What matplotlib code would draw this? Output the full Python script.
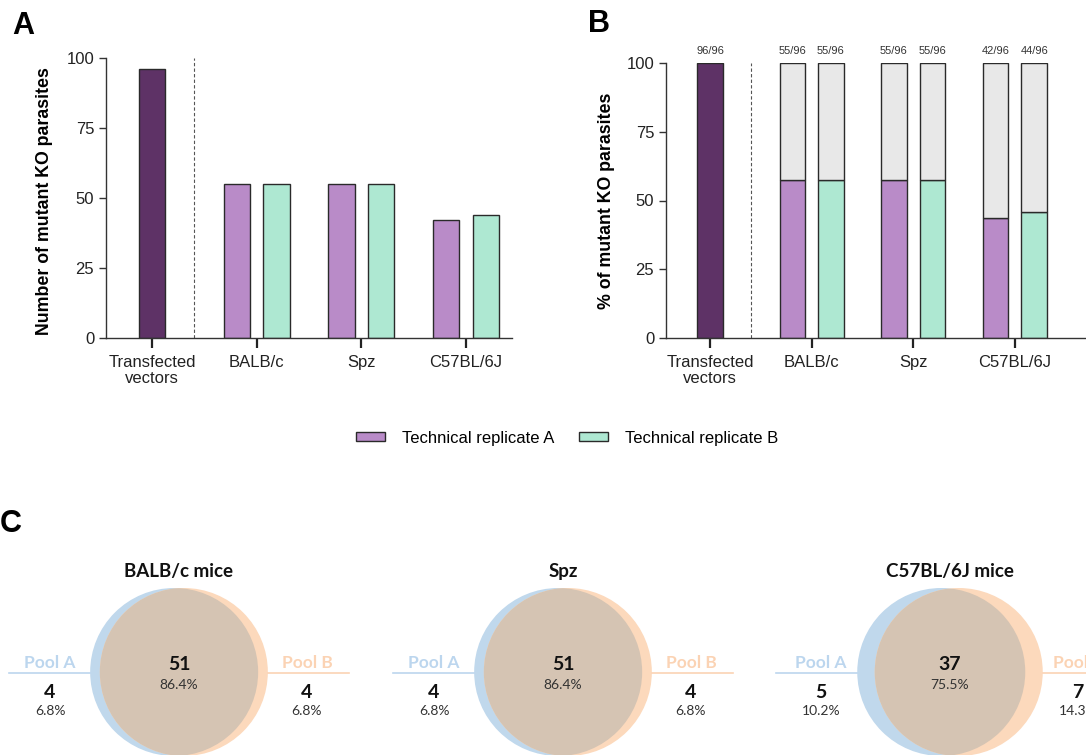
import numpy as np
import matplotlib
matplotlib.use("Agg")
import matplotlib.pyplot as plt
from matplotlib.patches import Circle, Patch

plt.rcParams['font.family'] = ['Liberation Sans', 'DejaVu Sans']

# data
groups = ['Transfected\nvectors', 'BALB/c', 'Spz', 'C57BL/6J']
transfected = 96
total = 96
rep_a = [55, 55, 42]
rep_b = [55, 55, 44]

venn_titles = ['BALB/c mice', 'Spz', 'C57BL/6J mice']
only_a = [4, 4, 5]
shared = [51, 51, 37]
only_b = [4, 4, 7]

dark = '#5e3266'
col_a = '#b98bc8'
col_b = '#aee8d2'
grey = '#e8e8e8'
edge = '#2a2a2a'

W, H = 1086, 755
fig = plt.figure(figsize=(W / 100, H / 100), dpi=100)


def px_axes(left, top, right, bottom):
    return fig.add_axes([left / W, 1 - bottom / H, (right - left) / W, (bottom - top) / H])


def style(ax):
    for s in ['top', 'right']:
        ax.spines[s].set_visible(False)
    for s in ['left', 'bottom']:
        ax.spines[s].set_color('#333333')
        ax.spines[s].set_linewidth(1.0)
    ax.set_ylim(0, 100)
    ax.set_yticks([0, 25, 50, 75, 100])
    ax.tick_params(axis='y', length=5, width=1, labelsize=12, colors='#333333', labelcolor='#222222')
    ax.tick_params(axis='x', length=7, width=1.6, labelsize=12, colors='#222222', pad=5)
    ax.set_xticks(range(len(groups)))
    ax.set_xticklabels(groups, linespacing=1.15)
    ax.axvline(0.40, 0, 1, color='#555555', lw=0.8, ls=(0, (3, 2)))


x = np.arange(1, 4)
bw, off = 0.25, 0.19

# panel A
axA = px_axes(106, 58, 512, 338)
axA.bar(0, transfected, bw, color=dark, edgecolor=edge, lw=1)
axA.bar(x - off, rep_a, bw, color=col_a, edgecolor=edge, lw=1)
axA.bar(x + off, rep_b, bw, color=col_b, edgecolor=edge, lw=1)
axA.set_xlim(-0.44, 3.44)
style(axA)
axA.set_ylabel('Number of mutant KO parasites', fontsize=12.8, fontweight='bold')
axA.yaxis.set_label_coords(-0.13, 0.49)

# panel B
axB = px_axes(666, 63, 1086, 338)
pa = np.array(rep_a) / total * 100
pb = np.array(rep_b) / total * 100
axB.bar(0, transfected / total * 100, bw, color=dark, edgecolor=edge, lw=1)
axB.bar(x - off, pa, bw, color=col_a, edgecolor=edge, lw=1)
axB.bar(x + off, pb, bw, color=col_b, edgecolor=edge, lw=1)
axB.bar(x - off, 100 - pa, bw, bottom=pa, color=grey, edgecolor=edge, lw=1)
axB.bar(x + off, 100 - pb, bw, bottom=pb, color=grey, edgecolor=edge, lw=1)
axB.set_xlim(-0.433, 3.70)
style(axB)
axB.set_ylabel('% of mutant KO parasites', fontsize=12.8, fontweight='bold')
axB.yaxis.set_label_coords(-0.122, 0.5)
labels = [(0, transfected)] + [(xi - off, a) for xi, a in zip(x, rep_a)] + [(xi + off, b) for xi, b in zip(x, rep_b)]
for xp, v in labels:
    axB.annotate(f'{v}/{total}', (xp, 100), xytext=(0, 5), textcoords='offset points',
                 ha='center', va='bottom', fontsize=8, color='#333333', annotation_clip=False)

# legend
handles = [Patch(facecolor=col_a, edgecolor=edge, label='Technical replicate A'),
           Patch(facecolor=col_b, edgecolor=edge, label='Technical replicate B')]
fig.legend(handles=handles, loc='center', bbox_to_anchor=(567 / W, 1 - 438 / H), ncol=2,
           frameon=False, fontsize=12, handlelength=1.75, handleheight=0.5,
           handletextpad=1.0, columnspacing=1.5)

# panel letters
fig.text(12 / W, 1 - 26 / H, 'A', fontsize=22, fontweight='bold', va='center')
fig.text(588 / W, 1 - 24 / H, 'B', fontsize=22, fontweight='bold', va='center')
fig.text(0 / W, 1 - 524 / H, 'C', fontsize=22, fontweight='bold', va='center')

# panel C: venn diagrams
axC = px_axes(0, 480, W, H)
axC.set_xlim(0, W)
axC.set_ylim(H, 480)
axC.axis('off')

vfont = ['Lato', 'DejaVu Sans']
blue = '#c0d8ec'
orange = '#fcd9bc'
mix = '#d5c4b3'
blue_txt = '#bcd6ee'
orange_txt = '#fbd3b4'
centers_x = [179, 563, 950]
cy, r = 672, 84
for cx, title, a, s, b in zip(centers_x, venn_titles, only_a, shared, only_b):
    n = a + s + b
    d = r * 0.85 * (a + b) / n
    xa, xb = cx - d / 2, cx + d / 2
    ca = Circle((xa, cy), r, facecolor=blue, edgecolor='none', zorder=1)
    cb = Circle((xb, cy), r, facecolor=orange, edgecolor='none', zorder=1)
    ci = Circle((xb, cy), r, facecolor=mix, edgecolor='none', zorder=2)
    axC.add_patch(ca)
    axC.add_patch(cb)
    axC.add_patch(ci)
    ci.set_clip_path(ca)
    axC.text(cx, 572, title, ha='center', va='center', fontsize=13.5, fontweight='bold',
             family=vfont, color='#111111')
    axC.text(cx, 665, str(s), ha='center', va='center', fontsize=14, fontweight='bold',
             family=vfont, color='#111111', zorder=3)
    axC.text(cx, 685, f'{s / n * 100:.1f}%', ha='center', va='center', fontsize=10,
             family=vfont, color='#333333', zorder=3)
    # pool A
    axC.plot([xa - r - 81, xa - r], [cy + 1, cy + 1], color=blue_txt, lw=1.2)
    axC.text(cx - 129, 663, 'Pool A', ha='center', va='center', fontsize=12.5, fontweight='bold',
             family=vfont, color=blue_txt)
    axC.text(cx - 129, 693, str(a), ha='center', va='center', fontsize=14, fontweight='bold',
             family=vfont, color='#111111')
    axC.text(cx - 129, 711, f'{a / n * 100:.1f}%', ha='center', va='center', fontsize=10,
             family=vfont, color='#333333')
    # pool B
    axC.plot([xb + r, xb + r + 81], [cy + 1, cy + 1], color=orange_txt, lw=1.2)
    axC.text(cx + 128, 663, 'Pool B', ha='center', va='center', fontsize=12.5, fontweight='bold',
             family=vfont, color=orange_txt)
    axC.text(cx + 128, 693, str(b), ha='center', va='center', fontsize=14, fontweight='bold',
             family=vfont, color='#111111')
    axC.text(cx + 128, 711, f'{b / n * 100:.1f}%', ha='center', va='center', fontsize=10,
             family=vfont, color='#333333')

fig.savefig('out.png', dpi=100)
